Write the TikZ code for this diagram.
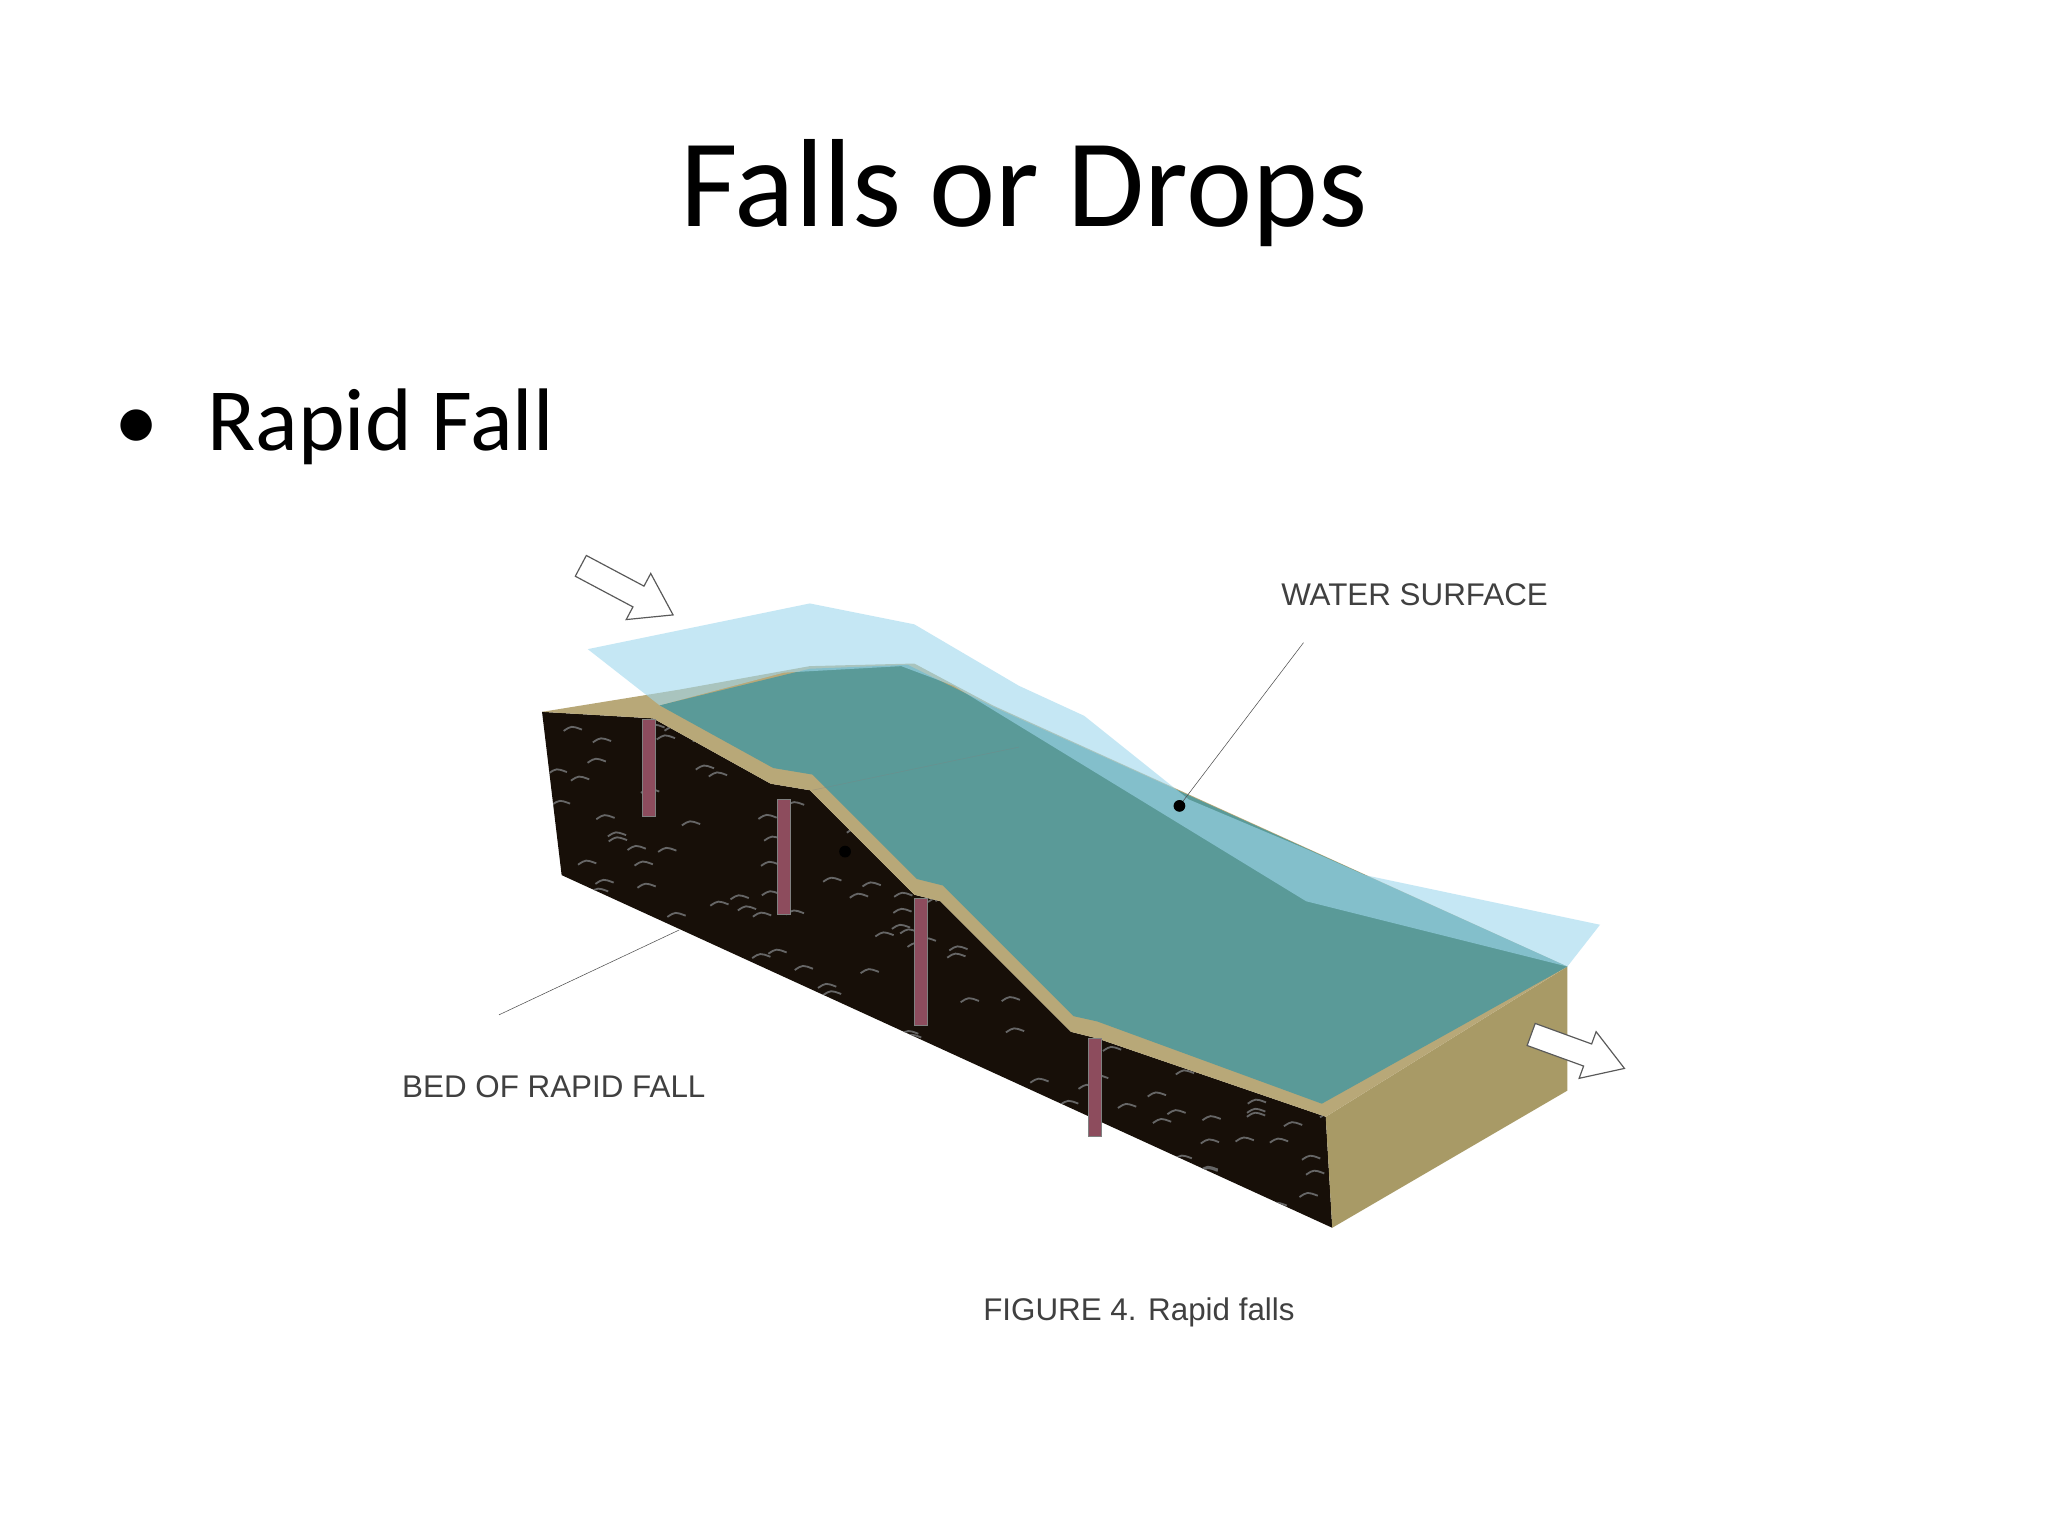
\documentclass[tikz,border=0pt]{standalone}
\usepackage{fontspec}
\setmainfont{Carlito}
\newfontfamily\lab{Liberation Sans}
\begin{document}
\begin{tikzpicture}[x=1pt,y=-1pt,
  lbl/.style={font=\lab\fontsize{24}{26}\selectfont,text=black!75},
  post/.style={fill=violet!40!red!45!black!70,draw=black!50,line width=0.6pt},
  flowline/.style={draw=black!65,fill=white,line width=0.9pt,line join=miter}]
\definecolor{tan}{HTML}{B8A878}
\definecolor{tandark}{HTML}{A89A66}
\definecolor{water}{HTML}{5A9A98}
\definecolor{sheet}{HTML}{9FD8EE}
\useasboundingbox (0,0) rectangle (1568,1176);
\fill[white] (0,0) rectangle (1568,1176);
\node (title) at (784,148) {\fontsize{96}{104}\selectfont Falls or Drops};
\node[anchor=west] (bul) at (84,327) {\fontsize{68}{76}\selectfont\textbullet\hspace{0.55em}Rapid Fall};
% soil front face
\path[fill=black!88!brown] (415,545) -- (500,550) -- (590,600) -- (620,605) -- (700,685) -- (720,690) -- (820,790) -- (840,795) -- (1015,855) -- (1020,940) -- (430,670) -- cycle;
\begin{scope}
\clip (415,545) -- (500,550) -- (590,600) -- (620,605) -- (700,685) -- (720,690) -- (820,790) -- (840,795) -- (1015,855) -- (1020,940) -- (430,670) -- cycle;
\pgfmathsetseed{7}
\foreach \i in {1,...,320}{
  \pgfmathsetmacro\xx{420+600*rnd}\pgfmathsetmacro\yy{540+400*rnd}
  \draw[black!60,line width=1.4pt] (\xx,\yy) .. controls (\xx+6,\yy-4) .. (\xx+14,\yy-1);}
\end{scope}
% right end face
\fill[tandark] (1015,855) -- (1200,740) -- (1200,835) -- (1020,940) -- cycle;
% tan top surface
\fill[tan] (415,545) -- (520,528) -- (620,510) -- (700,508) -- (760,540) -- (1200,740) -- (1015,855) -- (840,795) -- (820,790) -- (720,690) -- (700,685) -- (620,605) -- (590,600) -- (500,550) -- cycle;
% teal water
\fill[water] (505,540) -- (620,512) -- (695,509) -- (760,541) -- (1200,740) -- (1012,845) -- (840,782) -- (822,778) -- (722,678) -- (702,673) -- (622,593) -- (592,588) -- cycle;
\draw[black!50,opacity=0.4] (622,605) -- (780,572);
% water surface sheet
\fill[sheet,opacity=0.6] (450,497) -- (620,462) -- (700,478) -- (780,525) -- (830,548) -- (910,612) -- (1000,650) -- (1045,670) -- (1225,708) -- (1200,740) -- (1000,690) -- (820,580) -- (730,525) -- (690,510) -- (600,515) -- (505,540) -- cycle;
% posts
\foreach \n/\x/\a/\b in {pa/497/551/625,pb/600/612/700,pc/705/688/785,pd/838/795/870}
  \filldraw[post] (\x-5,\a) rectangle (\x+5,\b);
% arrows
\coordinate (inarr) at (480,452);
\coordinate (outarr) at (1208,805);
\begin{scope}[shift={(inarr)},rotate=-28]
\path[flowline] (-40,-9) -- (10,-9) -- (10,-20) -- (40,0) -- (10,20) -- (10,9) -- (-40,9) -- cycle;
\end{scope}
\begin{scope}[shift={(outarr)},rotate=-20]
\path[flowline] (-38,-9) -- (8,-9) -- (8,-19) -- (38,0) -- (8,19) -- (8,9) -- (-38,9) -- cycle;
\end{scope}
% labels
\node[lbl] (ws) at (1083,455) {WATER SURFACE};
\coordinate (wsd) at (903,617);
\draw[black!70] (998,492) -- (wsd);
\fill (wsd) circle (4.5pt);
\node[lbl] (bed) at (424,832) {BED OF RAPID FALL};
\coordinate (bedp) at (520,712);
\draw[black!70] (382,777) -- (bedp);
\coordinate (dot2) at (647,652);
\fill (dot2) circle (4.5pt);
\node[lbl] (fig) at (872,1005) {FIGURE 4. Rapid falls};
\end{tikzpicture}
\end{document}
